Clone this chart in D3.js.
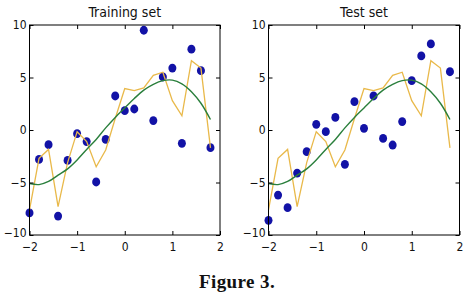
<!DOCTYPE html>
<html>
<head>
<meta charset="utf-8">
<script src="https://cdn.jsdelivr.net/npm/d3@7"></script>
<style>
  body { margin: 0; background: #fff; }
  svg { display: block; }
  .tick-label { font-family: 'DejaVu Sans Condensed', 'DejaVu Sans', sans-serif; font-stretch: condensed; font-size: 12px; fill: #111; }
  .title { font-family: 'DejaVu Sans Condensed', 'DejaVu Sans', sans-serif; font-stretch: condensed; font-size: 14px; fill: #111; }
  .caption { font-family: 'Liberation Serif', 'DejaVu Serif', serif; font-weight: bold; font-size: 19px; letter-spacing: 0.4px; fill: #111; }
</style>
</head>
<body>
<div id="chart"></div>
<script>
// x positions shared by every series
const xs = [-2, -1.8, -1.6, -1.4, -1.2, -1, -0.8, -0.6, -0.4, -0.2, 0, 0.2, 0.4, 0.6, 0.8, 1, 1.2, 1.4, 1.6, 1.8];

// training points
const trainY = [-7.9, -2.8, -1.4, -8.2, -2.9, -0.35, -1.1, -4.95, -0.9, 3.24, 1.84, 2.0, 9.5, 0.9, 5.05, 5.9, -1.27, 7.7, 5.65, -1.68];

// test points (no visible point at x = 1.6)
const testX = [-2, -1.8, -1.6, -1.4, -1.2, -1, -0.8, -0.6, -0.4, -0.2, 0, 0.2, 0.4, 0.6, 0.8, 1, 1.2, 1.4, 1.8];
const testY = [-8.6, -6.2, -7.4, -4.1, -2.06, 0.54, -0.16, 1.2, -3.27, 2.7, 0.16, 3.24, -0.8, -1.43, 0.8, 4.7, 7.05, 8.2, 5.55];

// overfitted model (yellow)
const overfitY = [-7.6, -2.7, -1.85, -7.3, -3.1, -0.16, -1.1, -3.5, -1.9, 1.1, 3.95, 3.75, 4.0, 5.2, 5.5, 2.8, 1.35, 6.6, 5.9, -1.7];

// smooth model (green)
const smoothY = [-5.1, -5.2, -4.9, -4.3, -3.7, -2.85, -1.85, -0.9, 0.2, 1.2, 2.1, 3.0, 3.8, 4.35, 4.7, 4.75, 4.4, 3.65, 2.55, 1.0];

const xTicks = [-2, -1, 0, 1, 2];
const yTicks = [-10, -5, 0, 5, 10];
const titles = ['Training set', 'Test set'];
const caption = 'Figure 3.';

const width = 469;
const height = 294;

const svg = d3.select('#chart').append('svg')
  .attr('width', width)
  .attr('height', height);

const fmt = d => (d < 0 ? '\u2212' + Math.abs(d) : String(d));

function drawPanel(left, right, title, px, py) {
  const x = d3.scaleLinear().domain([-2, 2]).range([left, right]);
  const y = d3.scaleLinear().domain([-10, 10]).range([235, 25]);
  const g = svg.append('g');

  // dots first, lines on top
  g.selectAll('ellipse')
    .data(px.map((d, i) => [d, py[i]]))
    .enter().append('ellipse')
    .attr('cx', d => x(d[0]))
    .attr('cy', d => y(d[1]))
    .attr('rx', 4)
    .attr('ry', 4.4)
    .attr('fill', '#1212a6');

  const line = d3.line()
    .x(d => x(d[0]))
    .y(d => y(d[1]));

  g.append('path')
    .datum(xs.map((d, i) => [d, overfitY[i]]))
    .attr('fill', 'none')
    .attr('stroke', '#e9b94a')
    .attr('stroke-width', 1.3)
    .attr('d', line);

  g.append('path')
    .datum(xs.map((d, i) => [d, smoothY[i]]))
    .attr('fill', 'none')
    .attr('stroke', '#2a7f3c')
    .attr('stroke-width', 1.4)
    .attr('d', line.curve(d3.curveCatmullRom));

  // frame
  g.append('rect')
    .attr('x', left)
    .attr('y', 25)
    .attr('width', right - left)
    .attr('height', 210)
    .attr('fill', 'none')
    .attr('stroke', '#000')
    .attr('stroke-width', 1);

  // axes with inward ticks
  const ax = d3.axisBottom(x).tickValues(xTicks).tickSize(-4).tickPadding(7).tickFormat(fmt);
  const axTop = d3.axisTop(x).tickValues(xTicks).tickSize(-4).tickFormat('');
  const ay = d3.axisLeft(y).tickValues(yTicks).tickSize(-4).tickPadding(3).tickFormat(fmt);
  const ayRight = d3.axisRight(y).tickValues(yTicks).tickSize(-4).tickFormat('');

  [
    g.append('g').attr('transform', 'translate(0,235)').call(ax),
    g.append('g').attr('transform', 'translate(0,25)').call(axTop),
    g.append('g').attr('transform', `translate(${left},0)`).call(ay),
    g.append('g').attr('transform', `translate(${right},0)`).call(ayRight)
  ].forEach(a => {
    a.select('.domain').remove();
    a.selectAll('line').attr('stroke', '#000');
    a.selectAll('text').attr('class', 'tick-label').attr('fill', null).attr('font-size', null).attr('font-family', null);
  });

  // lift the bottom y label a little so it clears the x labels
  g.selectAll('.tick-label').filter(d => d === -10 && yTicks.includes(d))
    .filter(function() { return this.getAttribute('x') !== null && +this.getAttribute('x') < 0; })
    .attr('dy', '0.1em');

  svg.append('text')
    .attr('class', 'title')
    .attr('x', (left + right) / 2)
    .attr('y', 17)
    .attr('text-anchor', 'middle')
    .text(title);
}

drawPanel(29.5, 220, titles[0], xs, trainY);
drawPanel(268.5, 459.5, titles[1], testX, testY);

svg.append('text')
  .attr('class', 'caption')
  .attr('x', 237)
  .attr('y', 288)
  .attr('text-anchor', 'middle')
  .text(caption);
</script>
</body>
</html>
